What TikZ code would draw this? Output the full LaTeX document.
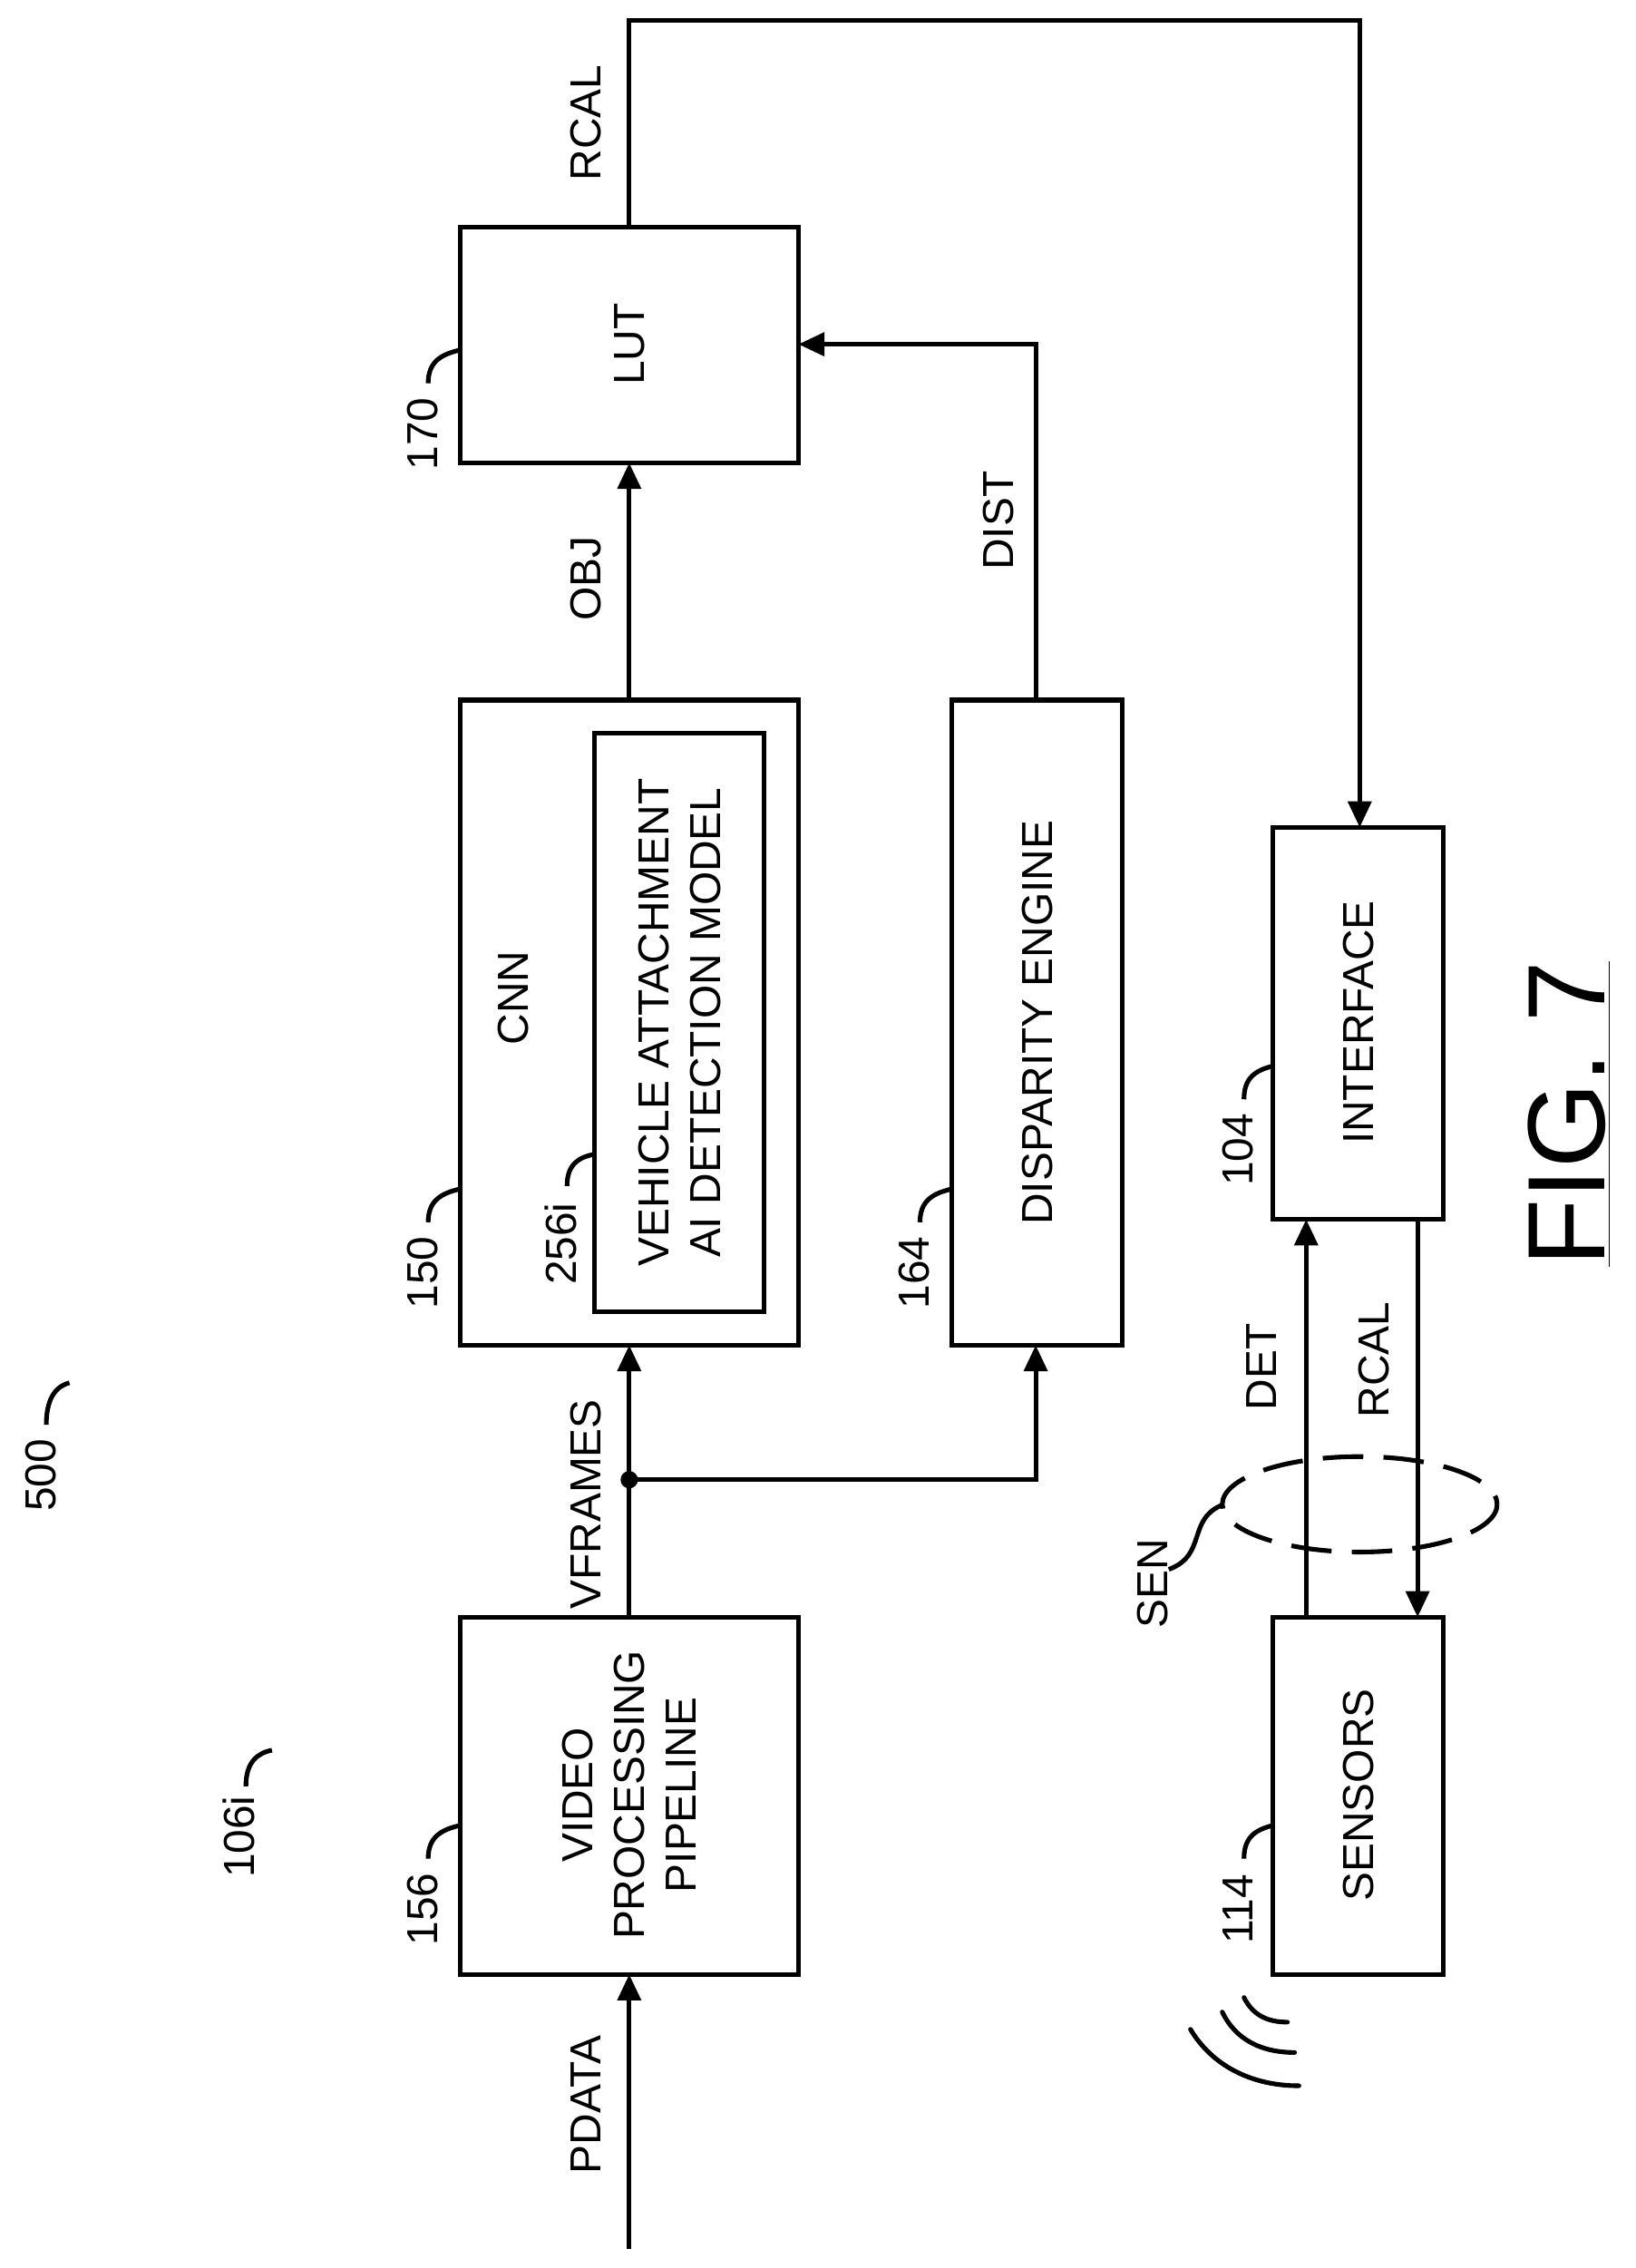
\documentclass[tikz,border=0pt]{standalone}
\usepackage{fontspec}
\setmainfont{Liberation Sans}
\usetikzlibrary{arrows.meta}
\begin{document}
\begin{tikzpicture}[x=0.5pt,y=-0.5pt,line width=1.6pt,
 box/.style={draw,line width=1.6pt},
 lab/.style={rotate=90,font=\fontsize{15}{18}\selectfont},
 ref/.style={rotate=90,font=\fontsize{15}{18}\selectfont},
 arr/.style={-{Triangle[length=9pt,width=8pt]}}]
\useasboundingbox (0,0) rectangle (1131,1568);
\fill[white] (0,0) rectangle (1131,1568);
% boxes
\draw[box] (318,1118) rectangle (552,1365);
\node[lab,align=center] (vpp) at (435,1241) {VIDEO\\PROCESSING\\PIPELINE};
\coordinate (vppT) at (435,1118); \coordinate (vppB) at (435,1365);
\draw[box] (318,484) rectangle (552,930);
\node[lab] (cnn) at (355,690) {CNN};
\draw[box] (411,507) rectangle (528,907);
\node[lab,align=center] (vam) at (470,707) {VEHICLE ATTACHMENT\\AI DETECTION MODEL};
\draw[box] (318,157) rectangle (552,320);
\node[lab] (lut) at (435,238) {LUT};
\draw[box] (658,484) rectangle (776,930);
\node[lab] (dis) at (717,707) {DISPARITY ENGINE};
\draw[box] (880,572) rectangle (998,843);
\node[lab] (ifc) at (939,707) {INTERFACE};
\draw[box] (880,1118) rectangle (998,1365);
\node[lab] (sen) at (939,1241) {SENSORS};
% connectors
\coordinate (pin) at (435,1555);
\draw[arr] (pin) -- (vppB);
\node[lab] (pdata) at (405,1455) {PDATA};
\coordinate (dot) at (435,1023);
\draw[arr] (vppT) -- (435,930);
\fill (dot) circle (6);
\draw[arr] (dot) -- (716,1023) -- (716,930);
\node[lab] (vfr) at (405,1040) {VFRAMES};
\draw[arr] (435,484) -- (435,320);
\node[lab] (obj) at (405,400) {OBJ};
\draw[arr] (716,484) -- (716,238) -- (552,238);
\node[lab] (dist) at (690,360) {DIST};
\draw[arr] (435,157) -- (435,14) -- (940,14) -- (940,572);
\node[lab] (rcal1) at (405,85) {RCAL};
\draw[arr] (903,1118) -- (903,843);
\node[lab] (det) at (872,945) {DET};
\draw[arr] (980,843) -- (980,1118);
\node[lab] (rcal2) at (950,940) {RCAL};
\draw[dashed,dash pattern=on 14pt off 7pt] (940,1040) ellipse (95 and 33);
\node[ref] (senl) at (797,1095) {SEN};
\draw (808,1085) .. controls (835,1075) and (820,1050) .. (846,1040);
% refs
\node[ref] (r500) at (28,1020) {500};
\draw (32,985) .. controls (32,965) and (40,958) .. (48,956);
\node[ref] (r106) at (165,1270) {106i};
\draw (170,1235) .. controls (170,1218) and (178,1212) .. (188,1210);
\node[ref] (r156) at (292,1320) {156};
\draw (296,1285) .. controls (296,1270) and (305,1265) .. (318,1262);
\node[ref] (r150) at (292,880) {150};
\draw (296,845) .. controls (296,830) and (305,825) .. (318,822);
\node[ref] (r170) at (292,300) {170};
\draw (296,265) .. controls (296,250) and (305,245) .. (318,242);
\node[ref] (r256) at (388,860) {256i};
\draw (392,820) .. controls (392,805) and (400,800) .. (411,798);
\node[ref] (r164) at (632,880) {164};
\draw (636,845) .. controls (636,830) and (645,825) .. (658,822);
\node[ref] (r104) at (856,795) {104};
\draw (860,760) .. controls (860,745) and (868,740) .. (880,737);
\node[ref] (r114) at (856,1320) {114};
\draw (860,1285) .. controls (860,1270) and (868,1265) .. (880,1262);
% waves
\draw[line cap=round] (860,1381) .. controls (866,1393) and (876,1398) .. (890,1398);
\draw[line cap=round] (845,1391) .. controls (854,1410) and (872,1419) .. (895,1419);
\draw[line cap=round] (823,1403) .. controls (838,1428) and (865,1442) .. (898,1442);
% fig
\node[rotate=90,font=\fontsize{38}{44}\selectfont] (fig) at (1085,770) {\underline{FIG. 7}};
\end{tikzpicture}
\end{document}
